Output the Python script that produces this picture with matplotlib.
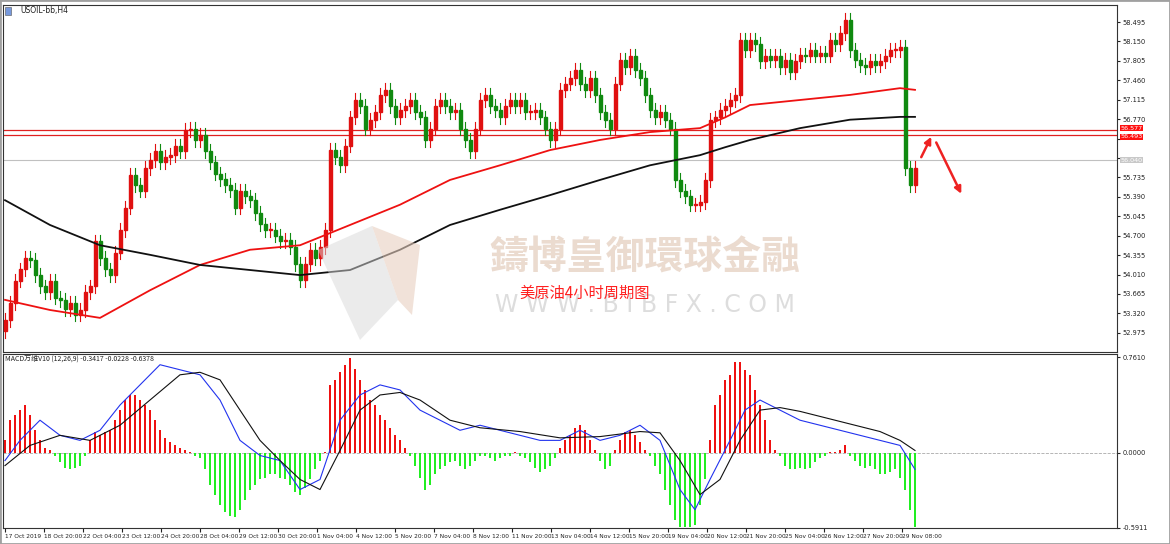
import matplotlib
matplotlib.use("Agg")
import matplotlib.pyplot as plt
from matplotlib.patches import Rectangle, Polygon
import numpy as np

plt.rcParams['font.family'] = ['DejaVu Sans', 'Noto Sans CJK SC']

closes = [53.2,53.5,53.9,54.1,54.3,54.27, 54.0,53.8,53.7,53.9,53.6,53.56,
          53.4,53.5,53.3,53.38,53.7,53.8, 54.6,54.3,54.1,54.0,54.4,54.8,
          55.2,55.78,55.6,55.5,55.9,56.04, 56.2,56.0,56.1,56.13,56.3,56.2,
          56.58,56.6,56.4,56.49,56.2,56.0, 55.8,55.7,55.6,55.51,55.2,55.5,
          55.4,55.33,55.1,54.9,54.8,54.8, 54.7,54.6,54.62,54.5,54.2,53.91,
          54.2,54.45,54.3,54.5,54.8,56.22, 56.1,55.95,56.3,56.8,57.11,57.0,
          56.6,56.75,56.9,57.2,57.29,57.0, 56.8,56.93,57.0,57.11,56.9,56.8,
          56.40,56.6,57.0,57.11,57.0,56.9, 56.93,56.6,56.4,56.2,56.6,57.11,
          57.2,57.0,56.93,56.8,57.0,57.11, 57.0,57.11,56.9,56.9,56.93,56.8,
          56.6,56.4,56.6,57.29,57.4,57.5, 57.64,57.4,57.29,57.5,57.2,56.9,
          56.75,56.6,57.4,57.82,57.7,57.9, 57.64,57.5,57.2,56.93,56.8,56.9,
          56.75,56.6,55.69,55.5,55.4,55.25, 55.25,55.3,55.69,56.75,
          56.8,56.93,57.0,57.11,57.2,58.18, 58.0,58.18,58.1,57.8,57.9,57.82,
          57.9,57.7,57.82,57.6,57.8,57.91, 57.9,58.0,57.9,57.95,57.9,58.18,
          58.1,58.3,58.53,58.0,57.82,57.73, 57.7,57.8,57.73,57.8,57.9,58.0,
          58.0,58.05,55.9,55.6,55.9]
first_open = 53.0

ma_idx = [0,9,19,29,39,49,59,69,79,89,99,109,119,129,139,144,149,159,169,179,182]
ma_red = [53.56,53.38,53.24,53.73,54.18,54.45,54.53,54.89,55.25,55.69,55.95,56.22,
          56.40,56.54,56.61,56.80,57.02,57.11,57.20,57.32,57.29]
ma_black = [55.33,54.89,54.53,54.36,54.18,54.09,54.00,54.09,54.45,54.89,55.16,55.42,
            55.69,55.95,56.13,56.27,56.40,56.61,56.76,56.81,56.81]

hist = [0.10,0.26,0.30,0.34,0.38,0.30,0.18,0.10,0.04,0.02,-0.02,-0.07,-0.12,-0.13,-0.12,-0.10,-0.02,
        0.10,0.17,0.14,0.17,0.18,0.26,0.34,0.42,0.46,0.46,0.42,0.38,0.34,0.26,0.18,0.12,0.09,0.06,0.04,
        0.02,0.01,-0.02,-0.04,-0.13,-0.25,-0.33,-0.41,-0.47,-0.50,-0.51,-0.45,-0.37,-0.29,-0.25,-0.21,
        -0.20,-0.17,-0.17,-0.20,-0.21,-0.25,-0.31,-0.33,-0.28,-0.21,-0.13,-0.06,0.01,0.54,0.58,0.64,
        0.70,0.75,0.67,0.58,0.50,0.42,0.38,0.30,0.26,0.20,0.14,0.10,0.04,-0.02,-0.10,-0.20,-0.29,-0.25,
        -0.17,-0.13,-0.10,-0.07,-0.06,-0.10,-0.13,-0.10,-0.06,-0.02,-0.02,-0.04,-0.06,-0.04,-0.02,-0.02,
        0.01,-0.02,-0.04,-0.07,-0.12,-0.15,-0.13,-0.10,-0.04,0.04,0.10,0.14,0.20,0.22,0.18,0.10,0.02,
        -0.06,-0.13,-0.10,0.02,0.10,0.17,0.18,0.14,0.09,0.02,-0.02,-0.10,-0.17,-0.29,-0.41,-0.53,-0.59,
        -0.59,-0.59,-0.57,-0.41,-0.21,0.10,0.38,0.46,0.58,0.62,0.72,0.72,0.66,0.62,0.50,0.38,0.26,0.10,
        0.02,-0.02,-0.10,-0.13,-0.13,-0.12,-0.13,-0.12,-0.07,-0.04,-0.02,0.01,0.01,0.02,0.06,-0.02,-0.06,
        -0.10,-0.12,-0.10,-0.13,-0.17,-0.17,-0.15,-0.13,-0.20,-0.29,-0.45,-0.59]

macd_idx = [0,3,7,11,15,19,23,27,31,35,39,43,47,51,55,59,63,67,71,75,79,83,87,91,95,99,103,107,
            111,115,119,123,127,131,135,138,141,145,148,151,155,159,163,167,171,175,179,182]
macd_line = [-0.06,0.10,0.26,0.14,0.10,0.18,0.38,0.54,0.70,0.66,0.62,0.42,0.10,-0.02,-0.06,-0.29,
             -0.21,0.26,0.46,0.54,0.50,0.34,0.26,0.18,0.22,0.18,0.14,0.10,0.10,0.18,0.10,0.14,0.22,
             0.10,-0.29,-0.45,-0.21,0.10,0.34,0.42,0.34,0.26,0.22,0.18,0.14,0.10,0.06,-0.13]
sig_idx = [0,5,11,17,23,29,35,39,43,47,51,55,59,63,67,71,75,79,83,89,95,103,111,119,127,131,135,
           139,143,147,151,155,159,167,175,179,182]
sig_line = [-0.10,0.06,0.14,0.10,0.22,0.42,0.62,0.64,0.58,0.34,0.10,-0.06,-0.21,-0.29,0.02,0.34,
            0.46,0.48,0.42,0.26,0.20,0.17,0.12,0.13,0.17,0.16,-0.06,-0.33,-0.21,0.10,0.34,0.36,
            0.33,0.25,0.17,0.10,0.02]

price_ticks = [58.495,58.150,57.805,57.460,57.115,56.770,56.425,56.080,55.735,55.390,55.045,
               54.700,54.355,54.010,53.665,53.320,52.975]
date_labels = ["17 Oct 2019","18 Oct 20:00","22 Oct 04:00","23 Oct 12:00","24 Oct 20:00",
               "28 Oct 04:00","29 Oct 12:00","30 Oct 20:00","1 Nov 04:00","4 Nov 12:00",
               "5 Nov 20:00","7 Nov 04:00","8 Nov 12:00","11 Nov 20:00","13 Nov 04:00",
               "14 Nov 12:00","15 Nov 20:00","19 Nov 04:00","20 Nov 12:00","21 Nov 20:00",
               "25 Nov 04:00","26 Nov 12:00","27 Nov 20:00","29 Nov 08:00"]
level1, level2, cur_price = 56.577, 56.493, 56.040

W, H = 1170, 544
fig = plt.figure(figsize=(W/100, H/100), dpi=100)
fig.patches.append(Rectangle((0, 0), 1, 1, transform=fig.transFigure, fill=False,
                             ec='#a0a0a0', lw=2))
def box(l, t, r, b):
    return [l/W, 1-b/H, (r-l)/W, (b-t)/H]
ax = fig.add_axes(box(3, 5, 1117, 352))
ax2 = fig.add_axes(box(3, 354, 1117, 528))
xmin, xmax = -0.4, 222.4
for a in (ax, ax2):
    a.set_xlim(xmin, xmax)
    for s in a.spines.values():
        s.set_color('#333333'); s.set_linewidth(0.8)
    a.yaxis.tick_right()
    a.tick_params(axis='y', labelsize=4.8, length=2, pad=2, colors='#222222')
ax.set_ylim(52.634, 58.797)
ax2.set_ylim(-0.595, 0.785)

# candles
opens = [first_open] + closes[:-1]
wick = 0.12
for i, (o, c) in enumerate(zip(opens, closes)):
    col = '#e01010' if c >= o else '#108a10'
    ax.plot([i, i], [min(o, c)-wick, max(o, c)+wick], color=col, lw=0.8, zorder=3)
    ax.add_patch(Rectangle((i-0.3, min(o, c)), 0.6, max(abs(c-o), 0.01), color=col, zorder=4))
ax.plot(ma_idx, ma_red, color='#ee1111', lw=1.3, zorder=5)
ax.plot(ma_idx, ma_black, color='#111111', lw=1.3, zorder=5)
ax.axhline(level1, color='#e02020', lw=0.9, zorder=2)
ax.axhline(level2, color='#e02020', lw=0.9, zorder=2)
ax.axhline(cur_price, color='#c0c0c0', lw=0.8, zorder=1)
ax.set_yticks(price_ticks)
ax.set_yticklabels([("" if v in (56.425, 56.080) else f"{v:.3f}") for v in price_ticks])
ax.set_xticks([])
for v, yoff in ((level1, 0.035), (level2, -0.035)):
    ax.text(1.003, v+yoff, f"{v:.3f}", transform=ax.get_yaxis_transform(), fontsize=4.6,
            color='white', va='center', ha='left', bbox=dict(fc='#ff1010', ec='none', pad=0.4))
ax.text(1.003, cur_price, f"{cur_price:.3f}", transform=ax.get_yaxis_transform(), fontsize=4.6,
        color='white', va='center', ha='left', bbox=dict(fc='#c8c8c8', ec='none', pad=0.4))

# arrows
ax.annotate('', xy=(185.5, 56.5), xytext=(183, 56.05),
            arrowprops=dict(arrowstyle='-|>', color='#ee2222', lw=1.8, mutation_scale=10))
ax.annotate('', xy=(191.5, 55.4), xytext=(186, 56.4),
            arrowprops=dict(arrowstyle='-|>', color='#ee2222', lw=1.8, mutation_scale=10))

# watermark
tr = fig.transFigure
fig.patches.append(Polygon([(318/W, 1-250/H), (372/W, 1-226/H), (398/W, 1-300/H), (360/W, 1-340/H)],
                           closed=True, transform=tr, fc='#d8d8d8', alpha=0.5, ec='none'))
fig.patches.append(Polygon([(372/W, 1-226/H), (420/W, 1-245/H), (412/W, 1-315/H), (398/W, 1-300/H)],
                           closed=True, transform=tr, fc='#e8cfc0', alpha=0.6, ec='none'))
fig.text(645/W, 1-258/H, "鑄博皇御環球金融", fontsize=28, color='#e6d2c4', alpha=0.8,
         ha='center', va='center', family=['Noto Sans CJK TC'], fontweight='bold')
fig.text(645/W, 1-305/H, "W W W . B I B F X . C O M", fontsize=17, color='#dddddd',
         ha='center', va='center')
fig.text(585/W, 1-293/H, "美原油4小时周期图", fontsize=11, color='#ff2020',
         ha='center', va='center', family=['Noto Sans CJK SC'])

# MACD
hcol = ['#ee1111' if v >= 0 else '#22ee22' for v in hist]
ax2.bar(range(len(hist)), hist, width=0.55, color=hcol, zorder=2)
ax2.plot(macd_idx, macd_line, color='#2233ee', lw=0.8, zorder=3)
ax2.plot(sig_idx, sig_line, color='#111111', lw=0.8, zorder=3)
ax2.axhline(0, color='#aaaaaa', lw=0.6, ls='--', zorder=1)
ax2.set_yticks([0.761, 0.0, -0.5911])
ax2.set_yticklabels(["0.7610", "0.0000", "-0.5911"])
tick_pos = [k*7.8 for k in range(len(date_labels))]
ax2.set_xticks(tick_pos)
ax2.set_xticklabels(date_labels, fontsize=4.2, ha='left')
ax2.tick_params(axis='x', length=3, pad=1, colors='#222222')

fig.text(20/W, 1-11/H, "USOIL-bb,H4", fontsize=5.5, va='center', color='#222222')
fig.patches.append(Rectangle((5/W, 1-15/H), 6/W, 8/H, transform=tr, fc='#7799dd', ec='#555555', lw=0.4))
fig.text(5/W, 1-360/H, "MACD万维V10 (12,26,9) -0.3417 -0.0228 -0.6378", fontsize=5,
         va='center', color='#222222', family=['Noto Sans CJK SC', 'DejaVu Sans'])

fig.savefig("out.png", dpi=100)
